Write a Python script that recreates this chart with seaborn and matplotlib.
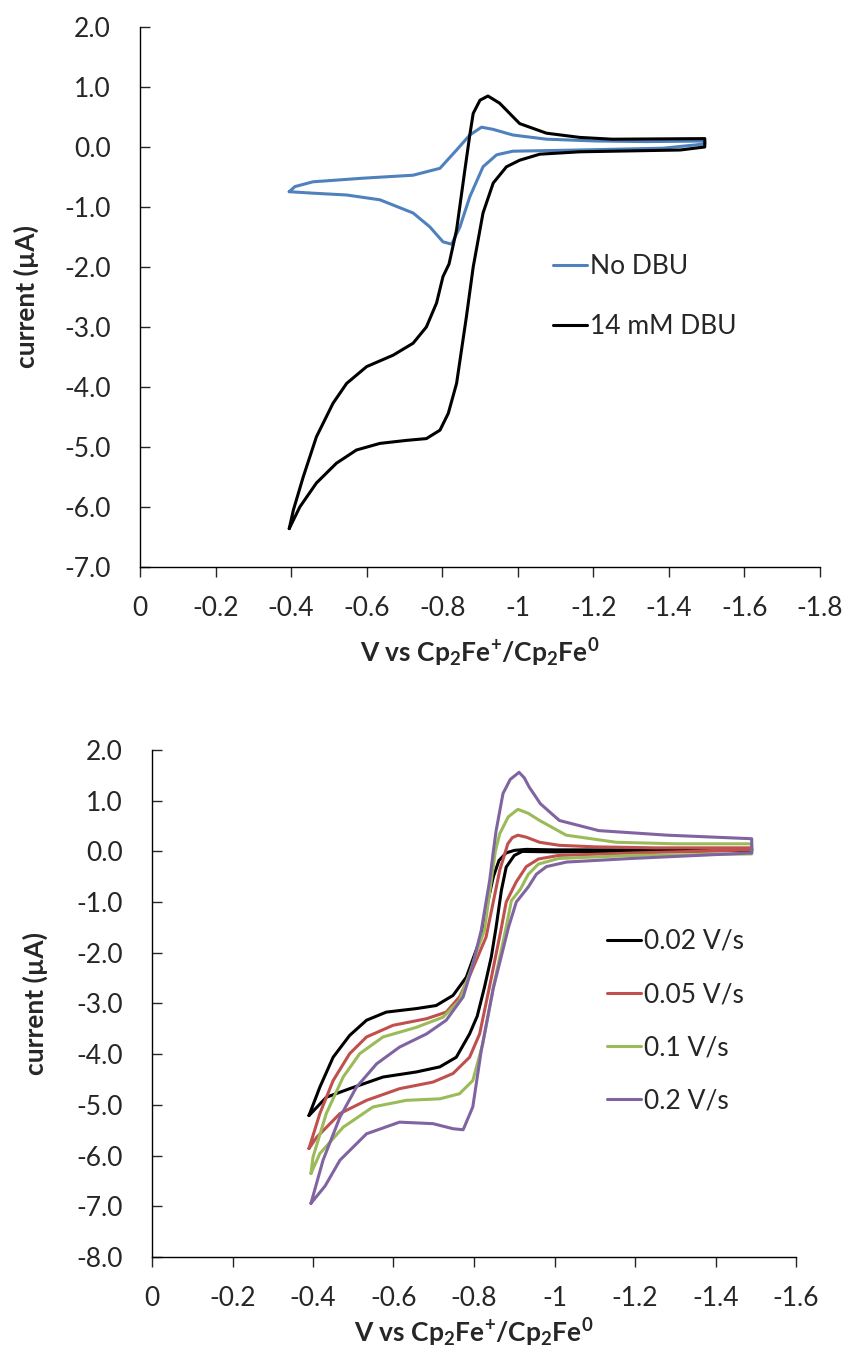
import matplotlib
matplotlib.use("Agg")
import matplotlib.pyplot as plt
import seaborn as sns
import pandas as pd
from matplotlib.ticker import MultipleLocator, FuncFormatter

# ---- top panel: No DBU vs 14 mM DBU (closed CV loops, start at -0.4 V) ----
nodbu_v = [-0.395, -0.41, -0.458, -0.59, -0.723, -0.794, -0.838, -0.873, -0.904, -0.934, -0.987,
           -1.076, -1.208, -1.34, -1.495,
           -1.495, -1.384, -1.164, -0.987, -0.944, -0.908, -0.873, -0.847, -0.825, -0.802,
           -0.767, -0.723, -0.635, -0.547, -0.459, -0.395]
nodbu_i = [-0.745, -0.66, -0.58, -0.52, -0.47, -0.355, -0.05, 0.2, 0.33, 0.295, 0.2,
           0.13, 0.1, 0.09, 0.1,
           0.05, -0.02, -0.05, -0.07, -0.13, -0.33, -0.83, -1.33, -1.62, -1.58,
           -1.33, -1.1, -0.88, -0.8, -0.77, -0.745]

dbu14_v = [-0.395, -0.406, -0.432, -0.467, -0.511, -0.547, -0.6, -0.67, -0.723, -0.758, -0.785,
           -0.802, -0.818, -0.838, -0.86, -0.873, -0.882, -0.9, -0.921, -0.952, -1.005, -1.076,
           -1.164, -1.25, -1.495,
           -1.495, -1.43, -1.164, -1.058, -1.005, -0.97, -0.935, -0.908, -0.882, -0.864, -0.838,
           -0.816, -0.794, -0.758, -0.705, -0.635, -0.573, -0.52, -0.467, -0.423, -0.395]
dbu14_i = [-6.36, -6.05, -5.5, -4.83, -4.27, -3.94, -3.66, -3.47, -3.27, -3.0, -2.6,
           -2.16, -1.95, -1.38, -0.38, 0.2, 0.56, 0.78, 0.85, 0.73, 0.39, 0.23,
           0.16, 0.13, 0.14,
           0.0, -0.05, -0.08, -0.12, -0.22, -0.33, -0.6, -1.1, -2.0, -2.83, -3.94,
           -4.44, -4.72, -4.86, -4.89, -4.94, -5.05, -5.27, -5.6, -6.0, -6.36]

# ---- bottom panel: scan-rate series ----
v002 = [-0.39, -0.417, -0.45, -0.491, -0.533, -0.582, -0.657, -0.706, -0.748, -0.781, -0.814,
        -0.835, -0.848, -0.862, -0.88, -0.9, -0.93, -1.0, -1.2, -1.49,
        -1.49, -1.2, -1.0, -0.92, -0.9, -0.88, -0.868, -0.855, -0.843, -0.826, -0.808,
        -0.789, -0.756, -0.715, -0.657, -0.574, -0.491, -0.433, -0.39]
i002 = [-5.21, -4.65, -4.06, -3.63, -3.33, -3.17, -3.10, -3.04, -2.84, -2.48, -1.76,
        -0.97, -0.5, -0.18, -0.03, 0.02, 0.04, 0.03, 0.03, 0.04,
        0.02, 0.0, -0.01, 0.0, -0.08, -0.31, -0.77, -1.49, -2.08, -2.68, -3.25,
        -3.6, -4.06, -4.25, -4.35, -4.45, -4.68, -4.85, -5.21]

v005 = [-0.39, -0.417, -0.45, -0.491, -0.533, -0.599, -0.682, -0.731, -0.764, -0.792, -0.83,
        -0.847, -0.864, -0.884, -0.895, -0.909, -0.93, -0.963, -1.012, -1.1, -1.25, -1.49,
        -1.49, -1.2, -1.01, -0.96, -0.93, -0.905, -0.88, -0.867, -0.839, -0.814, -0.789,
        -0.748, -0.698, -0.615, -0.533, -0.467, -0.409, -0.39]
i005 = [-5.86, -5.17, -4.52, -3.99, -3.66, -3.43, -3.30, -3.17, -2.87, -2.4, -1.69,
        -1.03, -0.37, 0.15, 0.27, 0.32, 0.28, 0.18, 0.12, 0.09, 0.07, 0.07,
        0.03, -0.03, -0.08, -0.15, -0.3, -0.6, -1.0, -1.55, -2.65, -3.6, -4.06,
        -4.38, -4.55, -4.68, -4.91, -5.17, -5.64, -5.86]

v01 = [-0.395, -0.4, -0.433, -0.475, -0.516, -0.574, -0.657, -0.723, -0.764, -0.789, -0.81,
       -0.826, -0.843, -0.853, -0.864, -0.885, -0.909, -0.935, -0.963, -1.029, -1.153, -1.3, -1.49,
       -1.49, -1.19, -1.01, -0.96, -0.935, -0.915, -0.893, -0.88, -0.848, -0.822, -0.797,
       -0.764, -0.715, -0.632, -0.549, -0.475, -0.417, -0.395]
i01 = [-6.35, -6.03, -5.17, -4.45, -3.99, -3.66, -3.47, -3.27, -2.94, -2.41, -1.9,
       -1.56, -0.57, 0.0, 0.35, 0.68, 0.83, 0.75, 0.61, 0.32, 0.18, 0.15, 0.15,
       -0.05, -0.08, -0.14, -0.25, -0.45, -0.75, -0.97, -1.49, -2.68, -3.79, -4.52,
       -4.78, -4.88, -4.91, -5.04, -5.44, -5.96, -6.35]

v02 = [-0.395, -0.425, -0.467, -0.508, -0.558, -0.615, -0.682, -0.731, -0.773, -0.793, -0.818,
       -0.839, -0.848, -0.855, -0.872, -0.89, -0.912, -0.925, -0.937, -0.965, -1.012, -1.11,
       -1.28, -1.49,
       -1.49, -1.19, -1.03, -0.98, -0.955, -0.935, -0.905, -0.886, -0.848, -0.818, -0.797,
       -0.773, -0.748, -0.698, -0.615, -0.533, -0.467, -0.43, -0.395]
i02 = [-6.94, -6.09, -5.24, -4.65, -4.19, -3.86, -3.6, -3.33, -2.87, -2.35, -1.56,
       -0.57, 0.0, 0.41, 1.14, 1.42, 1.56, 1.45, 1.27, 0.94, 0.61, 0.41,
       0.32, 0.25,
       -0.03, -0.14, -0.21, -0.3, -0.45, -0.7, -1.0, -1.49, -2.7, -3.93, -5.04,
       -5.49, -5.47, -5.37, -5.34, -5.57, -6.09, -6.6, -6.94]

top_series = [("No DBU", nodbu_v, nodbu_i, "#4F81BD"),
              ("14 mM DBU", dbu14_v, dbu14_i, "black")]
bottom_series = [("0.02 V/s", v002, i002, "black"),
                 ("0.05 V/s", v005, i005, "#C0504D"),
                 ("0.1 V/s", v01, i01, "#9BBB59"),
                 ("0.2 V/s", v02, i02, "#8064A2")]

sns.set_style("ticks")
plt.rcParams["font.family"] = ["Lato", "DejaVu Sans"]
plt.rcParams["axes.unicode_minus"] = False
plt.rcParams["mathtext.fontset"] = "custom"
plt.rcParams["mathtext.bf"] = "Lato:bold"
plt.rcParams["mathtext.rm"] = "Lato"
plt.rcParams["mathtext.default"] = "bf"

FS = 19
xlabel = r"V vs Cp$_{2}$Fe$^{+}$/Cp$_{2}$Fe$^{0}$"


def xfmt(v, pos):
    if abs(v) < 1e-9:
        return "0"
    return f"{v:g}"


def style_axes(ax, xmin, ymin, ymax, xlab_y, ylab_x):
    ax.set_xlim(0, xmin)
    ax.set_ylim(ymin, ymax)
    ax.xaxis.set_major_locator(MultipleLocator(0.2))
    ax.yaxis.set_major_locator(MultipleLocator(1.0))
    ax.xaxis.set_major_formatter(FuncFormatter(xfmt))
    ax.yaxis.set_major_formatter(FuncFormatter(lambda v, p: f"{v:.1f}"))
    for s in ["top", "right"]:
        ax.spines[s].set_visible(False)
    for s in ["left", "bottom"]:
        ax.spines[s].set_linewidth(1.0)
        ax.spines[s].set_color("black")
    ax.tick_params(axis="y", direction="in", length=7, width=1.0, pad=21, labelsize=FS)
    ax.tick_params(axis="x", direction="out", length=7, width=1.0, pad=14, labelsize=FS)
    ax.set_xlabel(xlabel, fontsize=FS, fontweight="bold")
    ax.set_ylabel("current (µA)", fontsize=FS, fontweight="bold")
    ax.xaxis.set_label_coords(0.5, xlab_y)
    ax.yaxis.set_label_coords(ylab_x, 0.5)


def draw(ax, series):
    for name, v, i, c in series:
        df = pd.DataFrame({"V": v, "I": i})
        sns.lineplot(data=df, x="V", y="I", sort=False, estimator=None, color=c,
                     lw=2.2, ax=ax, label=name, solid_joinstyle="round",
                     solid_capstyle="round")


fig = plt.figure(figsize=(8.48, 13.49), dpi=100)

ax1 = fig.add_axes([140 / 848, 1 - 567 / 1349, 680 / 848, 540 / 1349])
draw(ax1, top_series)
style_axes(ax1, -1.8, -7.0, 2.0, -0.128, -0.149)
ax1.legend(loc="upper left", bbox_to_anchor=(553 / 848, 1 - 254 / 1349),
           bbox_transform=fig.transFigure, frameon=False, fontsize=FS,
           handlelength=1.3, handletextpad=0.1, labelspacing=1.32, borderpad=0,
           borderaxespad=0)

ax2 = fig.add_axes([152 / 848, 1 - 1257 / 1349, 644 / 848, 507 / 1349])
draw(ax2, bottom_series)
style_axes(ax2, -1.6, -8.0, 2.0, -0.117, -0.161)
ax2.legend(loc="upper left", bbox_to_anchor=(607 / 848, 1 - 929 / 1349),
           bbox_transform=fig.transFigure, frameon=False, fontsize=FS,
           handlelength=1.3, handletextpad=0.1, labelspacing=1.07, borderpad=0,
           borderaxespad=0)

fig.savefig("out.png", dpi=100)
